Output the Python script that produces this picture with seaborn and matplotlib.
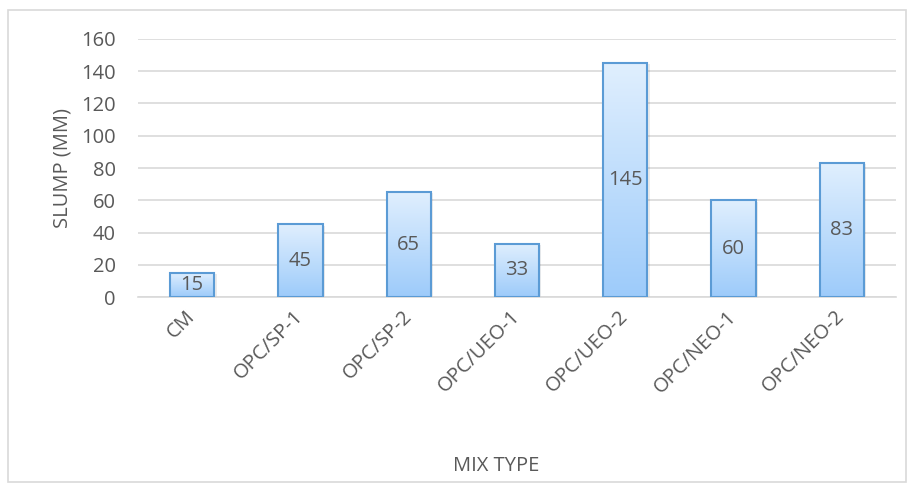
import numpy as np
import pandas as pd
import matplotlib
matplotlib.use("Agg")
import matplotlib.pyplot as plt
from matplotlib.patches import Rectangle
import seaborn as sns

# Slump test results per mix
mix_types = ["CM", "OPC/SP-1", "OPC/SP-2", "OPC/UEO-1", "OPC/UEO-2", "OPC/NEO-1", "OPC/NEO-2"]
slump_mm = [15, 45, 65, 33, 145, 60, 83]
y_ticks = [0, 20, 40, 60, 80, 100, 120, 140, 160]

df = pd.DataFrame({"mix": mix_types, "slump": slump_mm})

sns.set_theme(style="white")
plt.rcParams["font.family"] = ["Open Sans", "DejaVu Sans"]

TEXT = "#595959"
GRID = "#d9d9d9"
EDGE = "#5b9bd5"
FS = 14.5

W, H = 910, 486
fig = plt.figure(figsize=(W / 100, H / 100), dpi=100)
ax = fig.add_axes([138 / W, 1 - 297 / H, (896 - 138) / W, (297 - 39) / H])

sns.barplot(data=df, x="mix", y="slump", ax=ax, width=0.41,
            color="#b5d7fb", edgecolor=EDGE, linewidth=1.5, zorder=3)

# vertical light-to-mid blue gradient fill inside each bar, with a soft drop shadow
grad = np.linspace(0, 1, 256).reshape(-1, 1)
cmap = matplotlib.colors.LinearSegmentedColormap.from_list("barfill", ["#9dcbfa", "#e0effe"])
for p in list(ax.patches):
    x0, y0 = p.get_x(), p.get_y()
    w, h = p.get_width(), p.get_height()
    shadow = Rectangle((x0 + 0.02, y0), w, h - 0.8, facecolor="#000000", alpha=0.08,
                       edgecolor="none", zorder=2.2)
    ax.add_patch(shadow)
    im = ax.imshow(grad, cmap=cmap, aspect="auto", origin="lower",
                   extent=[x0, x0 + w, y0, y0 + h], zorder=2.5, interpolation="bilinear")
    im.set_clip_path(p)
    p.set_facecolor("none")

ax.set_xlim(-0.5, len(mix_types) - 0.5)
ax.set_ylim(0, 160)
ax.set_yticks(y_ticks)
ax.yaxis.grid(True, color=GRID, linewidth=1.2, zorder=0)
ax.set_axisbelow(True)
for s in ["top", "right", "left"]:
    ax.spines[s].set_visible(False)
ax.spines["bottom"].set_color(GRID)
ax.spines["bottom"].set_linewidth(1.2)
ax.tick_params(axis="both", length=0, colors=TEXT, labelsize=FS)
ax.tick_params(axis="y", pad=16)
ax.tick_params(axis="x", pad=12)
for lab in ax.get_xticklabels():
    lab.set_rotation(45)
    lab.set_ha("right")
    lab.set_va("center")
    lab.set_rotation_mode("anchor")

ax.set_xlabel("")
ax.set_ylabel("SLUMP (MM)", color=TEXT, fontsize=FS, labelpad=6)

# value labels centred in each bar
for i, v in enumerate(slump_mm):
    ax.text(i, v / 2, f"{v}", ha="center", va="center", color=TEXT, fontsize=FS, zorder=5)

fig.text(496 / W, 1 - 466 / H, "MIX TYPE", ha="center", va="center", color=TEXT, fontsize=FS)

# chart-area border
fig.patches.append(Rectangle((8 / W, 1 - 482 / H), (906 - 8) / W, (482 - 10) / H,
                             transform=fig.transFigure, fill=False, edgecolor=GRID, linewidth=1.2))

fig.savefig("out.png", dpi=100)
